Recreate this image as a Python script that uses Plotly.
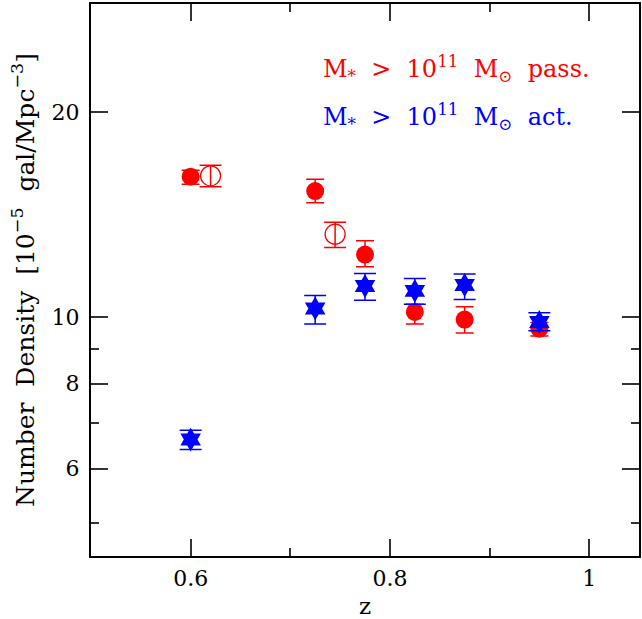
import plotly.graph_objects as go

# Passive, filled circles
z_pass = [0.6, 0.725, 0.775, 0.825, 0.875, 0.95]
n_pass = [16.09, 15.33, 12.37, 10.19, 9.93, 9.63]
e_pass_hi = [0.36, 0.62, 0.59, 0.27, 0.44, 0.20]
e_pass_lo = [0.41, 0.60, 0.50, 0.41, 0.44, 0.24]

# Passive, open circles
z_pass_o = [0.62, 0.745]
n_pass_o = [16.14, 13.25]
e_pass_o_hi = [0.59, 0.54]
e_pass_o_lo = [0.59, 0.58]

# Active, stars
z_act = [0.6, 0.725, 0.775, 0.825, 0.875, 0.95]
n_act = [6.62, 10.31, 11.12, 10.94, 11.16, 9.85]
e_act_hi = [0.21, 0.46, 0.48, 0.47, 0.42, 0.31]
e_act_lo = [0.22, 0.53, 0.52, 0.48, 0.53, 0.29]

x_ticks = [0.6, 0.8, 1.0]
x_ticktext = ["0.6", "0.8", "1"]
x_minor = [0.7, 0.9]
y_ticks = [6, 8, 10, 20]
y_ticktext = ["6", "8", "10", "20"]
y_minor = [5, 7, 9]

RED = "#ff0000"
BLUE = "#0000ff"
FONT = "DejaVu Serif"

fig = go.Figure()
fig.add_trace(go.Scatter(
    x=z_pass, y=n_pass, mode="markers",
    marker=dict(symbol="circle", size=18, color=RED),
    error_y=dict(type="data", array=e_pass_hi, arrayminus=e_pass_lo,
                 color=RED, thickness=1.5, width=9),
    showlegend=False))
fig.add_trace(go.Scatter(
    x=z_pass_o, y=n_pass_o, mode="markers",
    marker=dict(symbol="circle-open", size=20, color=RED, line=dict(width=1.3, color=RED)),
    error_y=dict(type="data", array=e_pass_o_hi, arrayminus=e_pass_o_lo,
                 color=RED, thickness=1.5, width=11),
    showlegend=False))
fig.add_trace(go.Scatter(
    x=z_act, y=n_act, mode="markers",
    marker=dict(symbol="hexagram", size=18, color=BLUE, line=dict(width=0)),
    error_y=dict(type="data", array=e_act_hi, arrayminus=e_act_lo,
                 color=BLUE, thickness=1.5, width=11),
    showlegend=False))

fig.add_annotation(xref="paper", yref="paper", x=0.42, y=0.883, xanchor="left", yanchor="middle",
                   text="M<sub>*</sub>  >  10<sup>11</sup>  M<sub>⊙</sub>  pass.", showarrow=False,
                   font=dict(family=FONT, size=24, color=RED))
fig.add_annotation(xref="paper", yref="paper", x=0.42, y=0.796, xanchor="left", yanchor="middle",
                   text="M<sub>*</sub>  >  10<sup>11</sup>  M<sub>⊙</sub>  act.", showarrow=False,
                   font=dict(family=FONT, size=24, color=BLUE))

fig.update_layout(
    width=642, height=619,
    margin=dict(l=91, r=1, t=4, b=63),
    paper_bgcolor="white", plot_bgcolor="white",
    font=dict(family=FONT, size=22, color="black"),
    xaxis=dict(range=[0.5, 1.05], tickvals=x_ticks, ticktext=x_ticktext,
               ticks="inside", ticklen=17, tickwidth=1.5, tickcolor="#333",
               showline=True, linewidth=2, linecolor="black", mirror="allticks",
               showgrid=False, zeroline=False, ticklabelstandoff=2,
               minor=dict(tickvals=x_minor, ticks="inside", ticklen=8, tickwidth=1.5, tickcolor="#333", showgrid=False),
               title=dict(text="z", standoff=8, font=dict(size=23))),
    yaxis=dict(type="log", range=[0.650, 1.460], tickvals=y_ticks, ticktext=y_ticktext,
               ticks="inside", ticklen=17, tickwidth=1.5, tickcolor="#333",
               showline=True, linewidth=2, linecolor="black", mirror="allticks",
               showgrid=False, zeroline=False, ticklabelstandoff=5,
               minor=dict(tickvals=y_minor, ticks="inside", ticklen=8, tickwidth=1.5, tickcolor="#333", showgrid=False),
               title=dict(text="Number  Density  [10<sup>−5</sup>  gal/Mpc<sup>−3</sup>]", standoff=10, font=dict(size=25))),
)

fig.write_html("out.html")
